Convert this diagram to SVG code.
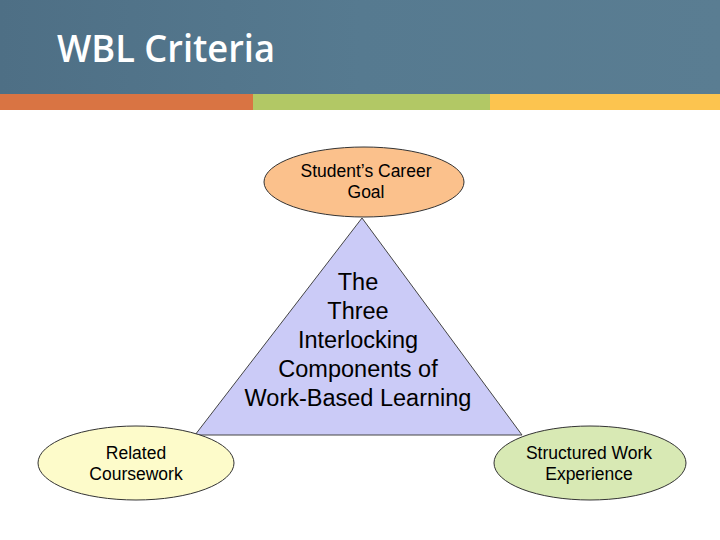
<svg xmlns="http://www.w3.org/2000/svg" width="720" height="540" viewBox="0 0 720 540">
<style>
.lbl{font-family:"Liberation Sans",Arial,sans-serif;fill:#000;text-anchor:middle}
.ell{stroke:#333;stroke-width:1}
</style>
<defs>
<linearGradient id="hdr" x1="0" y1="0" x2="1" y2="0">
<stop offset="0" stop-color="#4e6f85"/>
<stop offset="0.5" stop-color="#567a90"/>
<stop offset="1" stop-color="#5a7d92"/>
</linearGradient>
</defs>
<rect x="0" y="0" width="720" height="94" fill="url(#hdr)"/>
<text x="57" y="62" font-family="'Open Sans','Liberation Sans',sans-serif" font-size="38" font-weight="600" fill="#fff" textLength="218" lengthAdjust="spacingAndGlyphs">WBL Criteria</text>
<rect x="0" y="94" width="253" height="16" fill="#d97443"/>
<rect x="253" y="94" width="237" height="16" fill="#b2c865"/>
<rect x="490" y="94" width="230" height="16" fill="#fcc44f"/>
<g id="connectors"></g>
<g id="center">
<polygon points="362,218 195,435 522,435" fill="#cbcbf7" stroke="#444" stroke-width="1"/>
<text class="lbl" font-size="23.5"><tspan x="358" y="290">The</tspan><tspan x="358" y="319">Three</tspan><tspan x="358" y="348">Interlocking</tspan><tspan x="358" y="377">Components of</tspan><tspan x="358" y="406">Work-Based Learning</tspan></text>
</g>
<g id="goal">
<ellipse class="ell" cx="364" cy="182" rx="100" ry="35" fill="#fbc18c"/>
<text class="lbl" font-size="17.5"><tspan x="366" y="177">Student’s Career</tspan><tspan x="366" y="198">Goal</tspan></text>
</g>
<g id="coursework">
<ellipse class="ell" cx="136" cy="463" rx="98" ry="37" fill="#fdfbca"/>
<text class="lbl" font-size="17.5"><tspan x="136" y="459">Related</tspan><tspan x="136" y="480">Coursework</tspan></text>
</g>
<g id="work">
<ellipse class="ell" cx="590" cy="463" rx="96" ry="37" fill="#d8e9b4"/>
<text class="lbl" font-size="17.5"><tspan x="589" y="459">Structured Work</tspan><tspan x="589" y="480">Experience</tspan></text>
</g>
</svg>
